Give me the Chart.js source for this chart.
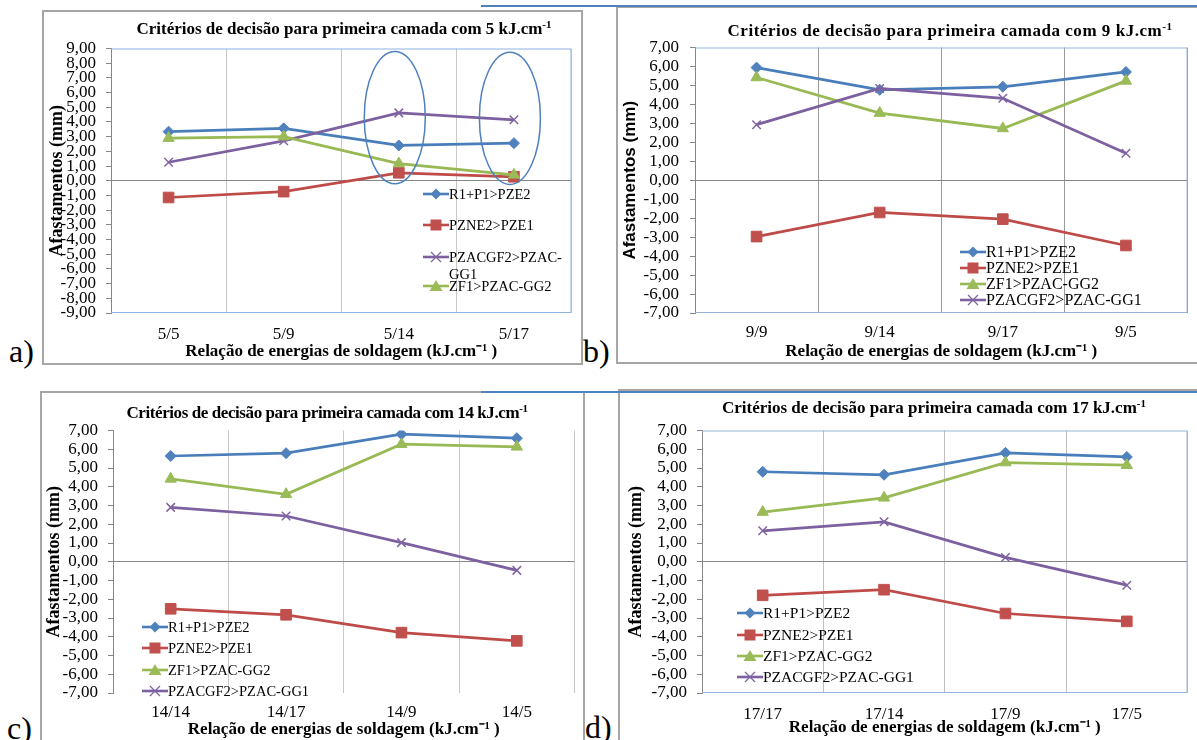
<!DOCTYPE html>
<html><head><meta charset="utf-8">
<script src="https://cdn.jsdelivr.net/npm/chart.js@4.4.1/dist/chart.umd.min.js"></script>
<style>
html,body{margin:0;padding:0;background:#fff;}
body{width:1197px;height:740px;position:relative;overflow:hidden;font-family:"Liberation Serif","Times New Roman",serif;color:#000;}
.frame{position:absolute;border:2px solid #a6a6a6;box-sizing:border-box;}
.bline{position:absolute;height:2px;background:#4F81BD;}
.title{position:absolute;font-weight:bold;white-space:nowrap;line-height:20px;}
.title sup{font-size:11px;line-height:0;vertical-align:6px;}
.legrow{position:absolute;display:flex;align-items:center;white-space:nowrap;line-height:16px;height:16px;}
.legrow svg{display:block;flex:none;}
.legtxt{position:absolute;white-space:nowrap;line-height:16px;}
canvas{position:absolute;}
.letter{position:absolute;font-size:32px;line-height:32px;}
</style></head>
<body>
<script>
// ---------- DATA ----------
const seriesNames = ['R1+P1>PZE2','PZNE2>PZE1','ZF1>PZAC-GG2','PZACGF2>PZAC-GG1'];

// a) 5 kJ/cm
const catsA = ['5/5','5/9','5/14','5/17'];
const r1p1A = [3.34, 3.57, 2.40, 2.56];
const pzne2A = [-1.14, -0.74, 0.54, 0.27];
const pzacgf2A = [1.26, 2.72, 4.62, 4.15];
const zf1A = [2.90, 3.00, 1.17, 0.40];

// b) 9 kJ/cm
const catsB = ['9/9','9/14','9/17','9/5'];
const r1p1B = [5.94, 4.77, 4.93, 5.71];
const pzne2B = [-2.97, -1.70, -2.05, -3.44];
const zf1B = [5.42, 3.54, 2.73, 5.24];
const pzacgf2B = [2.93, 4.84, 4.32, 1.42];

// c) 14 kJ/cm
const catsC = ['14/14','14/17','14/9','14/5'];
const r1p1C = [5.64, 5.79, 6.80, 6.59];
const pzne2C = [-2.51, -2.83, -3.78, -4.22];
const zf1C = [4.42, 3.60, 6.27, 6.13];
const pzacgf2C = [2.90, 2.44, 1.02, -0.46];

// d) 17 kJ/cm
const catsD = ['17/17','17/14','17/9','17/5'];
const r1p1D = [4.80, 4.64, 5.81, 5.59];
const pzne2D = [-1.79, -1.49, -2.76, -3.18];
const zf1D = [2.65, 3.41, 5.29, 5.15];
const pzacgf2D = [1.65, 2.13, 0.23, -1.25];

// y-axis ranges
const yRangeA = [-9, 9];
const yRangeBCD = [-7, 7];
const yStep = 1;

// ---------- STYLES ----------
const STY = {
  'R1+P1>PZE2':      {color:'#4A7EBB', fill:'#4F81BD', style:'rectRot', r:5.5, bw:1},
  'PZNE2>PZE1':      {color:'#BE4B48', fill:'#C0504D', style:'rect',    r:7.5, bw:1},
  'ZF1>PZAC-GG2':    {color:'#98B954', fill:'#9BBB59', style:'triangle',r:6.5, bw:1},
  'PZACGF2>PZAC-GG1':{color:'#7D60A0', fill:'#8064A2', style:'crossRot',r:6,   bw:1.5}
};
const SERIF = 'Liberation Serif';
const SANS = 'Liberation Sans';
const fmt = v => v.toFixed(2).replace('.', ',');

const panels = [
  {key:'a', cats:catsA, data:[[seriesNames[0],r1p1A],[seriesNames[1],pzne2A],[seriesNames[3],pzacgf2A],[seriesNames[2],zf1A]],
   yr:yRangeA, cv:[44,30,536,334], plot:[111,46,574,313], yTitleFont:SERIF, yTitleSize:18, yTitlePad:2.2, yTickPad:10, xTickPad:11.8, xTitlePad:1.8,
   grid:'#C8C8C8', frame:'#8DB3E2',
   ellipses:[{at:1.965, halfWidth:0.265, top:8.8, bottom:-0.2},{at:2.965, halfWidth:0.265, top:8.75, bottom:-0.25}],
   legend:{x:423, ys:[194,225,257,286], size:14.5, wrap:{2:['PZACGF2>PZAC-','GG1',274]}},
   title:{cx:344, cy:29, w:415, size:17, text:'Critérios de decisão para primeira camada com 5 kJ.cm'}},
  {key:'b', cats:catsB, data:[[seriesNames[0],r1p1B],[seriesNames[1],pzne2B],[seriesNames[2],zf1B],[seriesNames[3],pzacgf2B]],
   yr:yRangeBCD, cv:[618,28,578,334], plot:[695,44,1192,313], yTitleFont:SANS, yTitleSize:17, yTitlePad:1.8, yTickPad:11, xTickPad:9.8, xTitlePad:0,
   grid:'#9A9A9A', frame:'#95B3D7',
   legend:{x:960, ys:[252,268,284,300], size:16},
   title:{cx:950, cy:31, w:445, size:17, text:'Critérios de decisão para primeira camada com 9 kJ.cm'}},
  {key:'c', cats:catsC, data:[[seriesNames[0],r1p1C],[seriesNames[1],pzne2C],[seriesNames[2],zf1C],[seriesNames[3],pzacgf2C]],
   yr:yRangeBCD, cv:[42,412,541,328], plot:[113,428,580,693], yTitleFont:SERIF, yTitleSize:18, yTitlePad:1.2, yTickPad:10, xTickPad:9.8, xTitlePad:0,
   grid:'#C8C8C8', frame:null,
   legend:{x:142, ys:[627,648,670,691], size:14.5},
   title:{cx:327, cy:413, w:401, size:17, text:'Critérios de decisão para primeira camada com 14 kJ.cm'}},
  {key:'d', cats:catsD, data:[[seriesNames[0],r1p1D],[seriesNames[1],pzne2D],[seriesNames[2],zf1D],[seriesNames[3],pzacgf2D]],
   yr:yRangeBCD, cv:[620,412,576,328], plot:[702,428,1192,693], yTitleFont:SERIF, yTitleSize:18, yTitlePad:5.2, yTickPad:10, xTickPad:11.8, xTitlePad:1.8,
   grid:'#C0C0C0', frame:'#95B3D7',
   legend:{x:737, ys:[613,635,656,677], size:15.5},
   title:{cx:934, cy:408, w:424, size:17, text:'Critérios de decisão para primeira camada com 17 kJ.cm'}}
];

// ---------- STATIC DECORATION ----------
function addDiv(cls, css, html){
  const d = document.createElement('div'); d.className = cls;
  Object.assign(d.style, css); if (html !== undefined) d.innerHTML = html;
  document.body.appendChild(d); return d;
}
addDiv('frame', {left:'42px', top:'10px', width:'541px', height:'355px'});
addDiv('frame', {left:'616px', top:'6px', width:'600px', height:'358px'});
addDiv('frame', {left:'40px', top:'391px', width:'545px', height:'380px'});
addDiv('frame', {left:'618px', top:'389px', width:'600px', height:'380px'});
addDiv('bline', {left:'481px', top:'5px', width:'716px'});
addDiv('bline', {left:'481px', top:'391px', width:'716px'});

addDiv('letter', {left:'9px', top:'335px'}, 'a)');
addDiv('letter', {left:'583px', top:'335px'}, 'b)');
addDiv('letter', {left:'7px', top:'712px'}, 'c)');
addDiv('letter', {left:'585px', top:'711px'}, 'd)');

// ---------- PLUGIN: frame + ellipses ----------
const deco = {
  id:'deco',
  beforeDatasetsDraw(chart, args, opts){
    const {ctx, chartArea:a} = chart;
    if (opts.frame){
      ctx.save(); ctx.strokeStyle = opts.frame; ctx.lineWidth = 1;
      ctx.beginPath();
      ctx.moveTo(a.left, a.top + 0.5); ctx.lineTo(a.right - 0.5, a.top + 0.5);
      ctx.lineTo(a.right - 0.5, a.bottom - 0.5); ctx.lineTo(a.left, a.bottom - 0.5);
      ctx.stroke(); ctx.restore();
    }
  },
  afterDatasetsDraw(chart, args, opts){
    const list = opts.ellipses || [];
    const {ctx} = chart; const xs = chart.scales.x, ys = chart.scales.y;
    list.forEach(e => {
      const cx = xs.getPixelForValue(e.at);
      const hw = (xs.getPixelForValue(1) - xs.getPixelForValue(0)) * e.halfWidth;
      const t = ys.getPixelForValue(e.top), b = ys.getPixelForValue(e.bottom);
      ctx.save(); ctx.strokeStyle = '#4F81BD'; ctx.lineWidth = 1.5;
      ctx.beginPath(); ctx.ellipse(cx, (t + b) / 2, hw, (b - t) / 2, 0, 0, Math.PI * 2); ctx.stroke();
      ctx.restore();
    });
  }
};

// ---------- LEGEND (HTML) ----------
function markerSVG(name){
  const s = STY[name]; const w = 26, h = 16, cx = 13, cy = 8; let m = '';
  if (s.style === 'rectRot') m = `<polygon points="${cx},${cy-5.5} ${cx+5.5},${cy} ${cx},${cy+5.5} ${cx-5.5},${cy}" fill="${s.fill}"/>`;
  else if (s.style === 'rect') m = `<rect x="${cx-5.5}" y="${cy-5.5}" width="11" height="11" fill="${s.fill}"/>`;
  else if (s.style === 'triangle') m = `<polygon points="${cx},${cy-6} ${cx+6.5},${cy+5} ${cx-6.5},${cy+5}" fill="${s.fill}"/>`;
  else m = `<path d="M${cx-5} ${cy-5}L${cx+5} ${cy+5}M${cx+5} ${cy-5}L${cx-5} ${cy+5}" stroke="${s.fill}" stroke-width="1.3"/>`;
  return `<svg width="${w}" height="${h}" viewBox="0 0 ${w} ${h}"><line x1="0" y1="${cy}" x2="${w}" y2="${cy}" stroke="${s.color}" stroke-width="2.6"/>${m}</svg>`;
}
function buildLegend(p){
  const L = p.legend;
  p.data.forEach(([name], i) => {
    const row = addDiv('legrow', {left:L.x + 'px', top:(L.ys[i] - 8) + 'px', fontSize:L.size + 'px'}, markerSVG(name));
    const span = document.createElement('span');
    const wrap = L.wrap && L.wrap[i];
    span.textContent = wrap ? wrap[0] : name;
    row.appendChild(span);
    if (wrap){
      const t = addDiv('legtxt', {left:(L.x + 26) + 'px', top:(wrap[2] - 8) + 'px', fontSize:L.size + 'px'});
      t.textContent = wrap[1];
    }
  });
}

// ---------- TITLES (HTML) ----------
function buildTitle(p){
  const T = p.title;
  const el = addDiv('title', {fontSize:T.size + 'px', left:'0px', top:(T.cy - 10) + 'px'});
  el.appendChild(document.createTextNode(T.text));
  const sup = document.createElement('sup'); sup.textContent = '-1'; el.appendChild(sup);
  const w0 = el.getBoundingClientRect().width;
  const n = (T.text + '-1').length;
  el.style.letterSpacing = ((T.w - w0) / n) + 'px';
  const w1 = el.getBoundingClientRect().width;
  el.style.left = (T.cx - w1 / 2) + 'px';
}

// ---------- CHARTS ----------
function buildChart(p){
  const [L, T, W, H] = p.cv;
  const [pl, pt, pr, pb] = p.plot;
  const cv = document.createElement('canvas');
  cv.width = W; cv.height = H;
  cv.style.left = L + 'px'; cv.style.top = T + 'px';
  cv.style.width = W + 'px'; cv.style.height = H + 'px';
  document.body.appendChild(cv);
  const yW = pl - L, xH = (T + H) - pb;
  const datasets = p.data.map(([name, vals], i) => {
    const s = STY[name];
    return {
      label: name, data: vals,
      borderColor: s.color, backgroundColor: s.fill,
      pointBackgroundColor: s.fill, pointBorderColor: s.fill,
      pointStyle: s.style, pointRadius: s.r, pointBorderWidth: s.bw,
      borderWidth: 2.75, tension: 0, order: 3 - i
    };
  });
  new Chart(cv, {
    type: 'line',
    data: { labels: p.cats, datasets },
    plugins: [deco],
    options: {
      responsive: false, animation: false, devicePixelRatio: 1,
      layout: { padding: { left: 0, top: pt - T, right: (L + W) - pr, bottom: 0 } },
      plugins: {
        legend: { display: false }, title: { display: false }, tooltip: { enabled: false },
        deco: { frame: p.frame, ellipses: p.ellipses || [] }
      },
      scales: {
        x: {
          type: 'category', offset: true,
          afterFit: s => { s.height = xH; },
          grid: { display: true, offset: true, drawTicks: false, color: p.grid, lineWidth: 1 },
          border: { display: false },
          ticks: { font: { family: SERIF, size: 17, lineHeight: 1.2 }, color: '#000', padding: p.xTickPad, maxRotation: 0, autoSkip: false },
          title: { display: true, text: 'Relação de energias de soldagem (kJ.cm⁻¹ )', color: '#000',
                   font: { family: SERIF, size: 17, weight: 'bold', lineHeight: 1.2 }, padding: { top: 0, bottom: p.xTitlePad } }
        },
        y: {
          min: p.yr[0], max: p.yr[1],
          afterFit: s => { s.width = yW; },
          grid: { display: true, drawOnChartArea: true, drawTicks: true, tickLength: 5,
                  color: c => (c.tick && c.tick.value === 0) ? '#868686' : 'rgba(0,0,0,0)',
                  tickColor: '#868686', lineWidth: 1 },
          border: { display: true, color: '#868686', width: 1 },
          ticks: { stepSize: yStep, maxTicksLimit: 100, autoSkip: false, color: '#000', padding: p.yTickPad,
                   font: { family: SERIF, size: 17, lineHeight: 1 }, callback: v => fmt(v) },
          title: { display: true, text: 'Afastamentos (mm)', color: '#000',
                   font: { family: p.yTitleFont, size: p.yTitleSize, weight: 'bold', lineHeight: 1.2 },
                   padding: { top: p.yTitlePad, bottom: 0 } }
        }
      }
    }
  });
}

panels.forEach(p => { buildChart(p); });
panels.forEach(p => { buildLegend(p); buildTitle(p); });
</script>
</body></html>
